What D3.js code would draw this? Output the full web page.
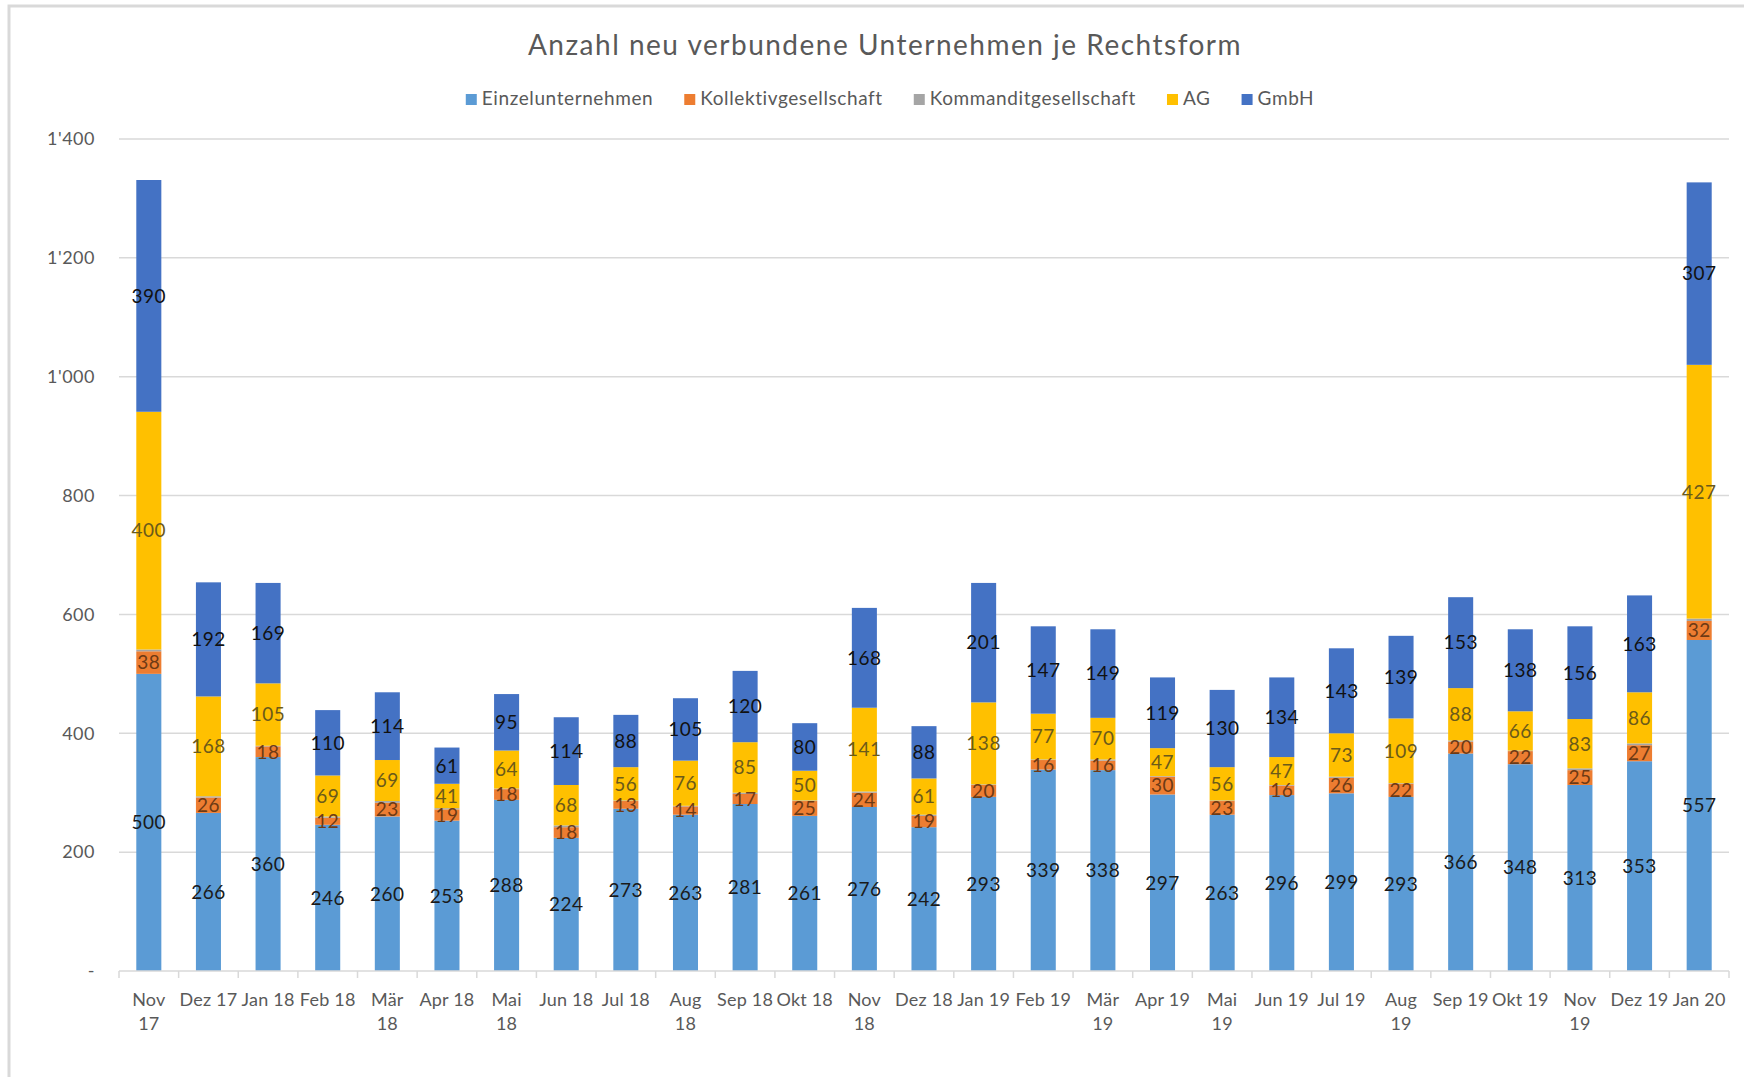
<!DOCTYPE html>
<html>
<head>
<meta charset="utf-8">
<script src="https://cdn.jsdelivr.net/npm/d3@7"></script>
<style>
  body { margin: 0; background: #fff; }
  svg { display: block; font-family: Lato, "Liberation Sans", sans-serif; }
</style>
</head>
<body>
<svg width="1744" height="1077"></svg>
<script>
// Months shown on the x axis
const categories = ["Nov 17","Dez 17","Jan 18","Feb 18","Mär 18","Apr 18","Mai 18","Jun 18","Jul 18",
  "Aug 18","Sep 18","Okt 18","Nov 18","Dez 18","Jan 19","Feb 19","Mär 19","Apr 19","Mai 19",
  "Jun 19","Jul 19","Aug 19","Sep 19","Okt 19","Nov 19","Dez 19","Jan 20"];
// labels that Excel broke onto two lines
const wrappedLabels = ["Nov 17","Mär 18","Mai 18","Aug 18","Nov 18","Mär 19","Mai 19","Aug 19","Nov 19"];

const seriesNames = ["Einzelunternehmen","Kollektivgesellschaft","Kommanditgesellschaft","AG","GmbH"];
const einzel   = [500,266,360,246,260,253,288,224,273,263,281,261,276,242,293,339,338,297,263,296,299,293,366,348,313,353,557];
const kollektiv = [38,26,18,12,23,19,18,18,13,14,17,25,24,19,20,16,16,30,23,16,26,22,20,22,25,27,32];
const kommandit = [3,2,1,2,3,2,1,3,1,1,2,1,2,2,1,1,2,1,1,1,2,1,2,1,3,3,4];
const ag        = [400,168,105,69,69,41,64,68,56,76,85,50,141,61,138,77,70,47,56,47,73,109,88,66,83,86,427];
const gmbh      = [390,192,169,110,114,61,95,114,88,105,120,80,168,88,201,147,149,119,130,134,143,139,153,138,156,163,307];
const yTicks = [0,200,400,600,800,1000,1200,1400];

const colors = ["#5B9BD5","#ED7D31","#A5A5A5","#FFC000","#4472C4"];
const labelColors = ["#1a1a1a","#6e3a14","#444","#6b5a1a","#111"];

const table = categories.map((c, i) => ({
  cat: c,
  [seriesNames[0]]: einzel[i],
  [seriesNames[1]]: kollektiv[i],
  [seriesNames[2]]: kommandit[i],
  [seriesNames[3]]: ag[i],
  [seriesNames[4]]: gmbh[i]
}));

const svg = d3.select("svg");

// chart frame
svg.append("rect")
  .attr("x", 9).attr("y", 6).attr("width", 1800).attr("height", 1200)
  .attr("fill", "none").attr("stroke", "#d9d9d9").attr("stroke-width", 3);

const plotLeft = 119, plotRight = 1729, plotTop = 139, plotBottom = 971;

const x = d3.scaleBand().domain(categories).range([plotLeft, plotRight]).paddingInner(0.58).paddingOuter(0.29);
const y = d3.scaleLinear().domain([0, 1400]).range([plotBottom, plotTop]);

const locale = d3.formatLocale({ decimal: ".", thousands: "'", grouping: [3], currency: ["", ""] });
const fmt = locale.format(",");

// gridlines
svg.append("g").selectAll("line").data(yTicks.filter(d => d > 0)).join("line")
  .attr("x1", plotLeft).attr("x2", plotRight)
  .attr("y1", d => y(d)).attr("y2", d => y(d))
  .attr("stroke", "#d9d9d9").attr("stroke-width", 1.5);

// y axis labels
const yAxis = svg.append("g").attr("transform", `translate(${plotLeft},0)`)
  .call(d3.axisLeft(y).tickValues(yTicks).tickSize(0).tickPadding(24)
    .tickFormat(d => d === 0 ? "-" : fmt(d)));
yAxis.select(".domain").remove();
yAxis.selectAll("text").attr("fill", "#595959").attr("font-size", 18)
  .attr("letter-spacing", 0.5)
  .attr("font-family", "Lato, sans-serif");

// stacked bars
const stack = d3.stack().keys(seriesNames)(table);

const layers = svg.append("g").selectAll("g").data(stack).join("g")
  .attr("fill", (d, i) => colors[i]);

layers.selectAll("rect").data(d => d).join("rect")
  .attr("x", d => x(d.data.cat))
  .attr("width", x.bandwidth())
  .attr("y", d => y(d[1]))
  .attr("height", d => y(d[0]) - y(d[1]));

// data labels (Kommanditgesellschaft values are too small to be labelled)
svg.append("g").selectAll("g").data(stack.filter(s => s.key !== seriesNames[2])).join("g")
  .each(function(s) {
    const idx = seriesNames.indexOf(s.key);
    d3.select(this).selectAll("text").data(s).join("text")
      .attr("x", d => x(d.data.cat) + x.bandwidth() / 2)
      .attr("y", d => (y(d[0]) + y(d[1])) / 2)
      .attr("dy", "0.36em")
      .attr("text-anchor", "middle")
      .attr("font-size", 19)
      .attr("letter-spacing", 0.5)
      .attr("fill", labelColors[idx])
      .text(d => d[1] - d[0]);
  });

// x axis line with Excel-style tick marks between categories
const xg = svg.append("g");
xg.append("line").attr("x1", plotLeft).attr("x2", plotRight).attr("y1", plotBottom).attr("y2", plotBottom)
  .attr("stroke", "#d9d9d9").attr("stroke-width", 1.5);
const step = x.step();
const bounds = d3.range(categories.length + 1).map(i => plotLeft + i * step);
xg.selectAll("line.tick").data(bounds).join("line").attr("class", "tick")
  .attr("x1", d => d).attr("x2", d => d).attr("y1", plotBottom).attr("y2", plotBottom + 7)
  .attr("stroke", "#d9d9d9").attr("stroke-width", 1.5);

xg.selectAll("text").data(categories).join("text")
  .attr("x", d => x(d) + x.bandwidth() / 2)
  .attr("y", 1006)
  .attr("text-anchor", "middle")
  .attr("font-size", 18)
  .attr("letter-spacing", 0.2)
  .attr("fill", "#595959")
  .each(function(d) {
    const t = d3.select(this);
    if (wrappedLabels.includes(d)) {
      const parts = d.split(" ");
      t.append("tspan").attr("x", x(d) + x.bandwidth() / 2).text(parts[0]);
      t.append("tspan").attr("x", x(d) + x.bandwidth() / 2).attr("dy", 24).text(parts[1]);
    } else {
      t.text(d);
    }
  });

// title
svg.append("text")
  .attr("x", 885).attr("y", 55)
  .attr("text-anchor", "middle")
  .attr("font-size", 28)
  .attr("letter-spacing", 1.5)
  .attr("fill", "#595959")
  .text("Anzahl neu verbundene Unternehmen je Rechtsform");

// legend
const legend = svg.append("g");
const items = legend.selectAll("g").data(seriesNames).join("g");
items.append("rect").attr("width", 11).attr("height", 11).attr("y", -11)
  .attr("fill", (d, i) => colors[i]);
items.append("text").attr("x", 16).attr("font-size", 19).attr("letter-spacing", 0.6)
  .attr("fill", "#595959").text(d => d);
let cx = 0;
items.each(function() {
  const w = this.getBBox().width;
  d3.select(this).attr("transform", `translate(${cx},0)`);
  cx += w + 31;
});
const total = cx - 31;
legend.attr("transform", `translate(${890 - total / 2},105)`);
</script>
</body>
</html>
